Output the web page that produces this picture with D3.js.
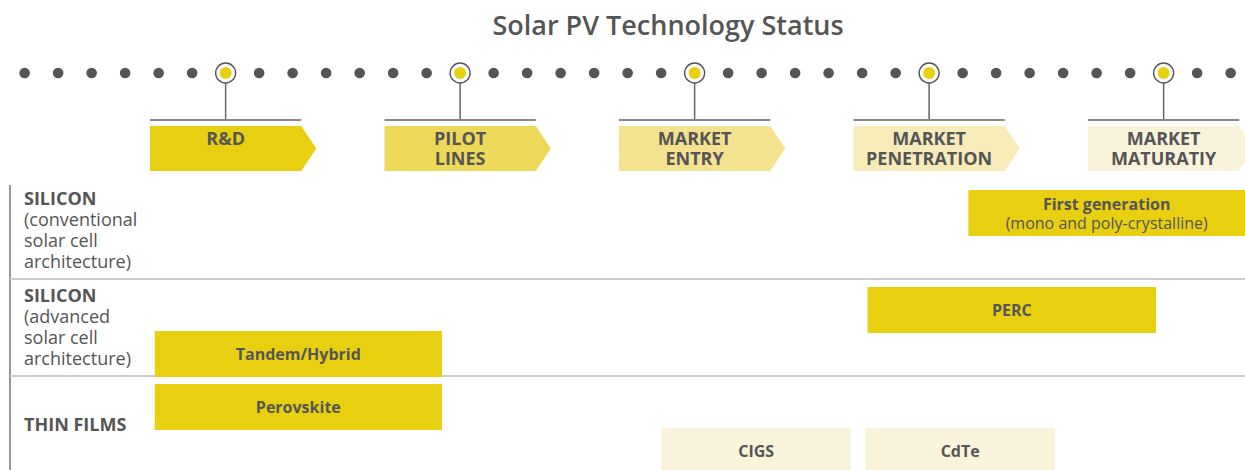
<!DOCTYPE html>
<html><head><meta charset="utf-8">
<script src="https://cdn.jsdelivr.net/npm/d3@7"></script>
<style>
html,body{margin:0;padding:0;background:#fff;}
svg{display:block;font-family:"Open Sans",sans-serif;}
</style></head>
<body>
<svg id="chart" width="1245" height="470"></svg>
<script>
// ---- data ----
const title = "Solar PV Technology Status";
const stageLabels = [["R&D"], ["PILOT", "LINES"], ["MARKET", "ENTRY"], ["MARKET", "PENETRATION"], ["MARKET", "MATURATIY"]];
const dotsPerStage = 7;
const dotCount = 37;
const rowNames = ["SILICON", "SILICON", "THIN FILMS"];
const rowSubs = [["(conventional", "solar cell", "architecture)"], ["(advanced", "solar cell", "architecture)"], []];
const barNames = ["First generation", "PERC", "Tandem/Hybrid", "Perovskite", "CIGS", "CdTe"];
const barSubs = ["(mono and poly-crystalline)", "", "", "", "", ""];
const barStart = [3.49, 3.06, 0.02, 0.02, 2.18, 3.05];
const barEnd = [4.75, 4.29, 1.245, 1.245, 2.99, 3.86];
const barRow = [0, 1, 1, 2, 2, 2];
const barLane = [0, 0, 1, 0, 1, 1];
const barStage = [0, 0, 0, 0, 4, 4];

// ---- styles ----
const stageColors = ["#e8cf10", "#eed85a", "#f3e28f", "#f7ebba", "#faf3dc"];
const textColor = "#555555";
const W = 1245, H = 470;
const svg = d3.select("#chart");

const x = d3.scaleLinear().domain([0, 5]).range([150, 150 + 5 * 234.5]);
const stageW = 0.645; // stage box width in stage units
const tipPx = 15;
const stageCenter = i => i + stageW / 2;

// title
svg.append("text").attr("x", 668).attr("y", 35).attr("text-anchor", "middle")
  .attr("font-size", 27).attr("font-weight", 600).attr("fill", textColor).text(title);

// dots
const dotY = 73;
const dots = d3.range(dotCount).map(i => ({i, v: (i - (dotsPerStage - 1)) / dotsPerStage + stageCenter(0)}));
const hl = d => (d.i - (dotsPerStage - 1)) % dotsPerStage === 0 && d.i >= dotsPerStage - 1;
svg.append("g").selectAll("circle").data(dots.filter(d => !hl(d))).join("circle")
  .attr("cx", d => x(d.v)).attr("cy", dotY).attr("r", 5.3).attr("fill", textColor);

// stages
const stageTop = 126, stageBot = 171, lineY = 120;
const sg = svg.append("g").selectAll("g").data(stageLabels).join("g");
sg.append("line").attr("x1", (d, i) => x(stageCenter(i))).attr("x2", (d, i) => x(stageCenter(i)))
  .attr("y1", dotY + 10).attr("y2", lineY).attr("stroke", "#666").attr("stroke-width", 1.5);
sg.append("line").attr("x1", (d, i) => x(i)).attr("x2", (d, i) => x(i + stageW))
  .attr("y1", lineY).attr("y2", lineY).attr("stroke", "#888").attr("stroke-width", 2);
sg.append("path").attr("fill", (d, i) => stageColors[i]).attr("d", (d, i) => {
  const x0 = x(i), x1 = x(i + stageW), mid = (stageTop + stageBot) / 2;
  return `M${x0},${stageTop}L${x1},${stageTop}L${x1 + tipPx},${mid}L${x1},${stageBot}L${x0},${stageBot}Z`;
});
sg.append("text").attr("text-anchor", "middle").attr("font-size", 18).attr("font-weight", 700)
  .attr("fill", textColor).attr("x", (d, i) => x(stageCenter(i)))
  .selectAll("tspan").data(d => d).join("tspan")
  .attr("x", function () { return this.parentNode.getAttribute("x"); })
  .attr("y", (t, k) => 145 + k * 20).text(t => t);
// highlighted dots
const hd = svg.append("g").selectAll("g").data(dots.filter(hl)).join("g");
hd.append("circle").attr("cx", d => x(d.v)).attr("cy", dotY).attr("r", 10)
  .attr("fill", "#fff").attr("stroke", textColor).attr("stroke-width", 1.4);
hd.append("circle").attr("cx", d => x(d.v)).attr("cy", dotY).attr("r", 6).attr("fill", stageColors[0]);

// rows
const rows = d3.scaleBand().domain(d3.range(rowNames.length)).range([182, 473]).padding(0);
const axisX = 10;
svg.append("line").attr("x1", axisX).attr("x2", axisX).attr("y1", 185).attr("y2", H)
  .attr("stroke", "#777").attr("stroke-width", 1.5);
svg.append("g").selectAll("line").data(d3.range(1, rowNames.length)).join("line")
  .attr("x1", axisX).attr("x2", W).attr("y1", r => rows(r)).attr("y2", r => rows(r))
  .attr("stroke", "#cccccc").attr("stroke-width", 2);
const lg = svg.append("g").selectAll("text").data(rowNames).join("text")
  .attr("font-size", 18).attr("fill", textColor);
lg.each(function (name, r) {
  const lines = [{t: name, b: true}].concat(rowSubs[r].map(t => ({t, b: false})));
  const c = rows(r) + rows.bandwidth() / 2;
  d3.select(this).selectAll("tspan").data(lines).join("tspan")
    .attr("x", 24).attr("y", (l, k) => c + (k - (lines.length - 1) / 2) * 21 + 6)
    .attr("font-weight", l => l.b ? 700 : 400).text(l => l.t);
});

// bars
const barH = 46;
const bars = barNames.map((n, i) => ({n, sub: barSubs[i], s: barStart[i], e: barEnd[i], row: barRow[i], lane: barLane[i], st: barStage[i]}));
const by = d => rows(d.row) + 8 + d.lane * 44;
const bg = svg.append("g").selectAll("g").data(bars).join("g");
bg.append("rect").attr("x", d => x(d.s)).attr("width", d => x(d.e) - x(d.s))
  .attr("y", by).attr("height", barH).attr("fill", d => stageColors[d.st]);
bg.append("text").attr("text-anchor", "middle").attr("fill", textColor).attr("font-size", 16)
  .each(function (d) {
    const cx = (x(d.s) + Math.min(x(d.e), W)) / 2;
    const c = by(d) + barH / 2;
    const t = d3.select(this);
    if (d.sub) {
      t.append("tspan").attr("x", cx).attr("y", c - 3).attr("font-weight", 700).text(d.n);
      t.append("tspan").attr("x", cx).attr("y", c + 16).attr("font-weight", 400).text(d.sub);
    } else {
      t.append("tspan").attr("x", cx).attr("y", c + 5.5).attr("font-weight", 700).text(d.n);
    }
  });
</script>
</body></html>
